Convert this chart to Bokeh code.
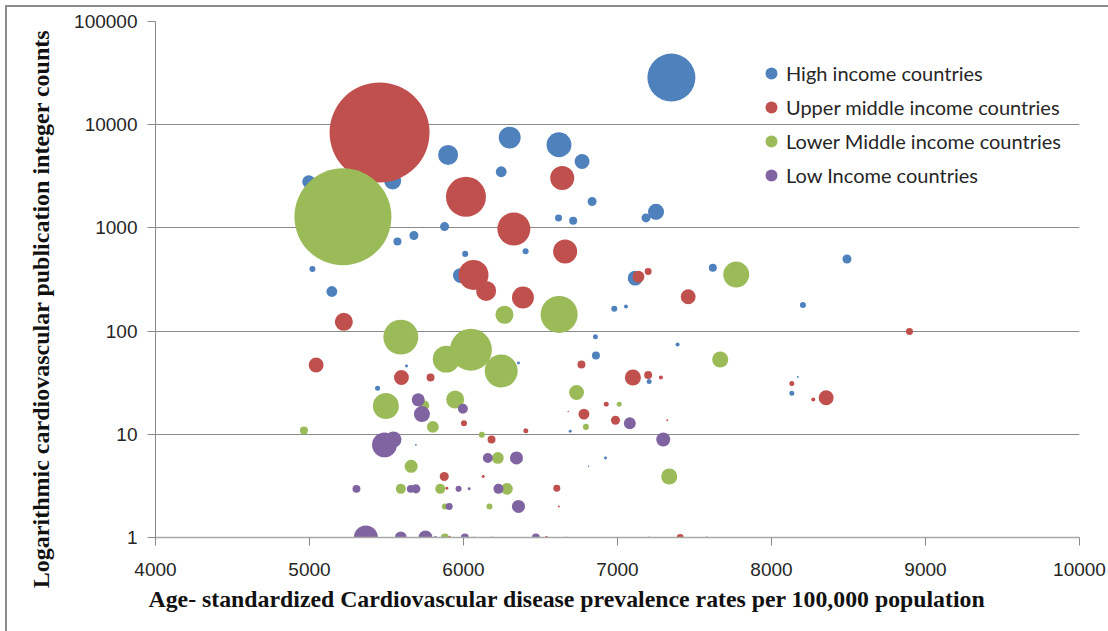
import math
from bokeh.plotting import figure
from bokeh.models import (ColumnDataSource, Range1d, FixedTicker, Legend,
                          LegendItem, Title)
from bokeh.embed import file_html
from bokeh.resources import INLINE

# ---------------- data ----------------
series_names = ["High income countries", "Upper middle income countries",
                "Lower Middle income countries", "Low Income countries"]
series_colors = ["#4F81BD", "#C0504D", "#9BBB59", "#8064A2"]

x_title = "Age- standardized Cardiovascular disease prevalence rates per 100,000 population"
y_title = "Logarithmic cardiovascular publication integer counts"

x_ticks = [4000, 5000, 6000, 7000, 8000, 9000, 10000]
y_ticks = [1, 10, 100, 1000, 10000, 100000]
y_tick_labels = ["1", "10", "100", "1000", "10000", "100000"]

# High income countries: prevalence, publications, population (millions)
high_x = [7350, 6620, 6300, 5900, 5540, 4995, 6770, 6245, 7250, 7185, 6835, 6617,
          6712, 5877, 5678, 5571, 6011, 6403, 5019, 5145, 5980, 7115, 7619, 8490,
          8204, 6979, 7055, 7390, 6857, 6860, 6357, 5630, 5442, 7206, 8171, 8132,
          6693, 5691, 6922, 6812, 6182]
high_y = [28600, 6400, 7500, 5100, 2850, 2800, 4400, 3500, 1430, 1250, 1800, 1250,
          1170, 1030, 845, 740, 560, 595, 400, 242, 345, 326, 410, 500,
          179, 165, 173, 74, 88, 58, 49, 46, 28, 32.5, 36, 25,
          10.7, 7.9, 5.9, 4.9, 1]
high_pop = [311, 84, 65, 54, 39, 23, 30, 16, 35, 11, 11, 6.6,
            8.6, 11, 11, 8.6, 4.9, 4.9, 4.9, 16, 30, 30, 8.6, 11,
            4.9, 4.9, 2.2, 2.2, 3.4, 8.6, 1.2, 1.2, 3.4, 3.4, 0.5, 3.4,
            1.2, 0.5, 1.2, 0.3, 0.5]

# Upper middle income countries
upper_x = [5455, 6016, 6641, 6327, 6660, 6065, 6147, 6386, 5223, 7136, 7199, 7459,
           8896, 5043, 6766, 5597, 5786, 7100, 7199, 7282, 8132, 8271, 8355, 6927,
           6680, 6782, 6987, 7323, 6003, 6405, 6182, 5875, 6128, 5892, 6606, 6619,
           5909, 6539, 7206, 7407, 7578]
upper_y = [8400, 2000, 3050, 975, 590, 350, 245, 212, 123, 336, 378, 215,
           99, 47, 47.5, 35.5, 35.5, 35.5, 37.5, 35.5, 31, 21.7, 22.6, 19.6,
           16.6, 15.7, 13.7, 13.7, 12.8, 10.8, 8.9, 3.9, 3.9, 3.0, 3.0, 2.0,
           1, 1, 1, 1, 1]
upper_pop = [1350, 216, 78, 147, 78, 121, 54, 65, 44, 19, 6.6, 30,
             6.6, 30, 8.6, 30, 8.6, 35, 8.6, 2.2, 3.4, 2.2, 30, 3.4,
             0.3, 16, 11, 0.5, 4.9, 3.4, 8.6, 11, 1.2, 1.2, 6.6, 0.5,
             1.2, 1.2, 0.5, 6.6, 0.5]

# Lower Middle income countries
lower_x = [5217, 6621, 6048, 5593, 6245, 5888, 7771, 6266, 7667, 5496, 5946, 5745,
           5801, 4964, 6119, 6734, 7011, 6795, 5660, 6223, 7336, 5593, 5849, 6282,
           5879, 6169, 5879, 6071, 6665]
lower_y = [1280, 145, 66, 87.5, 41, 53.5, 353, 144, 53, 18.8, 21.7, 19,
           11.8, 10.9, 9.9, 25.4, 19.6, 11.8, 4.9, 5.9, 3.9, 2.96, 2.96, 2.96,
           2.0, 2.0, 1, 1, 1]
lower_pop = [1270, 185, 238, 165, 147, 98, 91, 44, 35, 91, 44, 13.5,
             19, 8.6, 4.9, 30, 3.4, 4.9, 23, 19, 35, 13.5, 13.5, 19,
             4.9, 4.9, 8.6, 0.5, 0.5]

# Low Income countries
low_x = [5487, 5545, 5706, 5730, 5996, 6158, 6344, 7080, 7297, 5305, 5658, 5691,
         5968, 6037, 6227, 5907, 6357, 5366, 5593, 5753, 5818, 6009, 6470]
low_y = [7.9, 8.9, 21.6, 15.7, 17.7, 5.9, 5.9, 12.8, 8.9, 2.96, 2.96, 2.96,
         2.96, 2.96, 2.96, 2.0, 2.0, 1, 1, 1, 1, 1, 1]
low_pop = [84, 35, 23, 35, 13.5, 13.5, 23, 19, 26.5, 8.6, 8.6, 11,
           4.9, 1.2, 13.5, 6.6, 23, 78, 19, 26.5, 1.2, 8.6, 8.6]

series_x = [high_x, upper_x, lower_x, low_x]
series_y = [high_y, upper_y, lower_y, low_y]
series_pop = [high_pop, upper_pop, lower_pop, low_pop]

# ---------------- figure ----------------
MAX_BUBBLE_PX = 100
GRID = "#8a8a8a"
TEXT = "#262626"

p = figure(frame_width=924, frame_height=516,
           x_range=Range1d(4000, 10000), y_range=Range1d(1, 100000),
           y_axis_type="log", output_backend="svg", toolbar_location=None,
           min_border_left=148, min_border_right=29, min_border_top=14,
           min_border_bottom=94, background_fill_color="white",
           border_fill_color="white")
p.outline_line_color = None
p.styles = {"margin": "5px 0 0 5px",
            "border-top": "2px solid #8c8c8c",
            "border-left": "2px solid #8c8c8c"}

p.xgrid.visible = False
p.ygrid.ticker = FixedTicker(ticks=y_ticks)
p.ygrid.grid_line_color = GRID
p.ygrid.grid_line_width = 1

p.xaxis.ticker = FixedTicker(ticks=x_ticks)
p.yaxis.ticker = FixedTicker(ticks=y_ticks)
p.yaxis.major_label_overrides = {t: l for t, l in zip(y_ticks, y_tick_labels)}
for ax in (p.xaxis[0], p.yaxis[0]):
    ax.major_tick_out = 8
    ax.major_tick_in = 0
    ax.minor_tick_out = 0
    ax.minor_tick_in = 0
    ax.major_tick_line_color = GRID
    ax.axis_line_color = GRID
    ax.major_label_text_font = "Liberation Sans"
    ax.major_label_text_font_size = "19px"
    ax.major_label_text_color = TEXT
    ax.major_label_standoff = 10
p.xaxis.major_label_standoff = 17
p.xaxis.axis_line_color = "#a8a8a8"
p.xaxis.axis_line_width = 1.5

max_pop = max(max(s) for s in series_pop)
renderers = []
for xs, ys, pops, color in zip(series_x, series_y, series_pop, series_colors):
    order = sorted(range(len(xs)), key=lambda i: -pops[i])
    src = ColumnDataSource(dict(
        x=[xs[i] for i in order],
        y=[ys[i] for i in order],
        pop=[pops[i] for i in order],
        size=[MAX_BUBBLE_PX * math.sqrt(pops[i] / max_pop) for i in order],
    ))
    r = p.scatter(x="x", y="y", size="size", source=src, marker="circle",
                  fill_color=color, fill_alpha=1.0, line_color=None)
    renderers.append(r)

legend = Legend(
    items=[LegendItem(label=n, renderers=[r]) for n, r in zip(series_names, renderers)],
    location=(601, 347), orientation="vertical",
    glyph_width=30, glyph_height=30, label_standoff=0, spacing=4,
    padding=0, margin=0, border_line_color=None, background_fill_alpha=0,
    label_text_font="Lato", label_text_font_size="20px", label_text_color=TEXT,
)
p.add_layout(legend)

xt = Title(text=x_title, align="left", offset=-7, vertical_align="top",
           standoff=14, text_font="Liberation Serif", text_font_style="bold",
           text_font_size="23.8px", text_color="#111111")
p.add_layout(xt, "below")

yt = Title(text=y_title, align="right", offset=8, vertical_align="bottom",
           standoff=36, text_font="Liberation Serif", text_font_style="bold",
           text_font_size="24px", text_color="#111111")
p.add_layout(yt, "left")

open("out.html", "w").write(file_html(p, INLINE))
